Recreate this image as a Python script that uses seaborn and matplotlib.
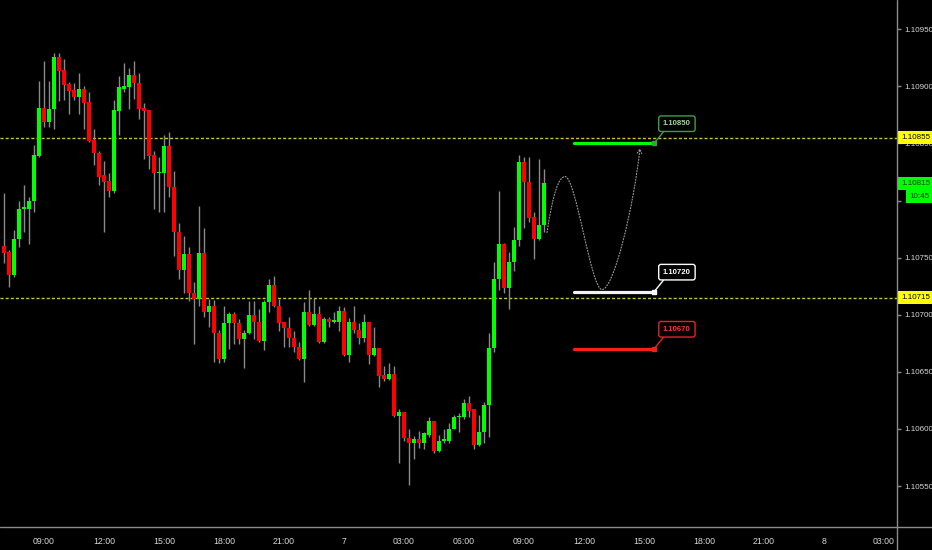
import numpy as np
import pandas as pd
import matplotlib
matplotlib.use("Agg")
import matplotlib.pyplot as plt
import seaborn as sns
from matplotlib import font_manager
from matplotlib.path import Path
from matplotlib.patches import FancyArrowPatch
from matplotlib.lines import Line2D

# ---------------- data ----------------
# 15-minute EURUSD candles; time in hours counted from 00:00 of day 6
start_hour = 7.0
bar_hours = 0.25

opens = [1.10760, 1.10755, 1.10735, 1.10766, 1.10793, 1.10793, 1.10800, 1.10839, 1.10881, 1.10869,
         1.10880, 1.10926, 1.10914, 1.10902, 1.10897, 1.10891, 1.10898, 1.10886, 1.10853, 1.10842,
         1.10822, 1.10817, 1.10808, 1.10878, 1.10898, 1.10899, 1.10910, 1.10903, 1.10881, 1.10879,
         1.10840, 1.10824, 1.10824, 1.10848, 1.10812, 1.10772, 1.10739, 1.10753, 1.10719, 1.10714,
         1.10754, 1.10702, 1.10708, 1.10684, 1.10661, 1.10693, 1.10701, 1.10693, 1.10679, 1.10684,
         1.10700, 1.10694, 1.10677, 1.10711, 1.10726, 1.10708, 1.10694, 1.10688, 1.10680, 1.10672,
         1.10661, 1.10702, 1.10691, 1.10701, 1.10676, 1.10696, 1.10694, 1.10694, 1.10703, 1.10665,
         1.10694, 1.10687, 1.10680, 1.10694, 1.10665, 1.10671, 1.10647, 1.10644, 1.10648, 1.10611,
         1.10615, 1.10592, 1.10588, 1.10591, 1.10588, 1.10595, 1.10607, 1.10581, 1.10589, 1.10589,
         1.10600, 1.10610, 1.10610, 1.10623, 1.10617, 1.10586, 1.10597, 1.10621, 1.10671, 1.10731,
         1.10762, 1.10723, 1.10746, 1.10765, 1.10834, 1.10816, 1.10786, 1.10766, 1.10779]

highs = [1.10807, 1.10757, 1.10774, 1.10800, 1.10814, 1.10803, 1.10849, 1.10905, 1.10922, 1.10905,
         1.10929, 1.10929, 1.10924, 1.10904, 1.10903, 1.10912, 1.10900, 1.10895, 1.10863, 1.10843,
         1.10835, 1.10824, 1.10888, 1.10909, 1.10920, 1.10916, 1.10922, 1.10912, 1.10885, 1.10879,
         1.10843, 1.10838, 1.10857, 1.10860, 1.10826, 1.10780, 1.10769, 1.10759, 1.10729, 1.10795,
         1.10776, 1.10714, 1.10713, 1.10687, 1.10708, 1.10702, 1.10702, 1.10696, 1.10687, 1.10712,
         1.10712, 1.10705, 1.10713, 1.10731, 1.10734, 1.10714, 1.10694, 1.10698, 1.10686, 1.10676,
         1.10711, 1.10722, 1.10715, 1.10708, 1.10698, 1.10698, 1.10702, 1.10708, 1.10707, 1.10697,
         1.10708, 1.10693, 1.10701, 1.10694, 1.10689, 1.10671, 1.10655, 1.10658, 1.10655, 1.10617,
         1.10615, 1.10600, 1.10594, 1.10598, 1.10597, 1.10610, 1.10607, 1.10595, 1.10600, 1.10605,
         1.10612, 1.10614, 1.10626, 1.10629, 1.10617, 1.10612, 1.10624, 1.10684, 1.10746, 1.10808,
         1.10763, 1.10755, 1.10777, 1.10840, 1.10838, 1.10838, 1.10790, 1.10836, 1.10828]

lows = [1.10745, 1.10724, 1.10733, 1.10759, 1.10772, 1.10762, 1.10790, 1.10838, 1.10864, 1.10864,
        1.10863, 1.10887, 1.10888, 1.10876, 1.10888, 1.10876, 1.10863, 1.10851, 1.10831, 1.10814,
        1.10772, 1.10803, 1.10807, 1.10857, 1.10895, 1.10880, 1.10889, 1.10871, 1.10836, 1.10828,
        1.10793, 1.10790, 1.10790, 1.10803, 1.10751, 1.10731, 1.10719, 1.10712, 1.10674, 1.10708,
        1.10698, 1.10689, 1.10659, 1.10658, 1.10659, 1.10670, 1.10674, 1.10674, 1.10653, 1.10683,
        1.10679, 1.10676, 1.10669, 1.10702, 1.10707, 1.10686, 1.10672, 1.10672, 1.10667, 1.10660,
        1.10641, 1.10690, 1.10690, 1.10675, 1.10675, 1.10689, 1.10693, 1.10686, 1.10664, 1.10659,
        1.10684, 1.10674, 1.10676, 1.10657, 1.10664, 1.10637, 1.10642, 1.10643, 1.10610, 1.10570,
        1.10589, 1.10551, 1.10574, 1.10583, 1.10582, 1.10593, 1.10579, 1.10580, 1.10588, 1.10588,
        1.10600, 1.10597, 1.10609, 1.10610, 1.10582, 1.10585, 1.10588, 1.10593, 1.10667, 1.10722,
        1.10719, 1.10705, 1.10738, 1.10760, 1.10776, 1.10781, 1.10749, 1.10765, 1.10772]

closes = [1.10754, 1.10735, 1.10766, 1.10793, 1.10794, 1.10800, 1.10840, 1.10881, 1.10869, 1.10880,
          1.10926, 1.10913, 1.10901, 1.10896, 1.10891, 1.10898, 1.10885, 1.10852, 1.10842, 1.10821,
          1.10816, 1.10808, 1.10879, 1.10899, 1.10900, 1.10910, 1.10903, 1.10880, 1.10878, 1.10839,
          1.10824, 1.10824, 1.10848, 1.10812, 1.10772, 1.10739, 1.10753, 1.10719, 1.10714, 1.10754,
          1.10702, 1.10708, 1.10684, 1.10661, 1.10693, 1.10701, 1.10693, 1.10679, 1.10684, 1.10700,
          1.10694, 1.10677, 1.10711, 1.10726, 1.10708, 1.10693, 1.10688, 1.10680, 1.10672, 1.10661,
          1.10702, 1.10691, 1.10701, 1.10676, 1.10696, 1.10694, 1.10695, 1.10703, 1.10665, 1.10694,
          1.10687, 1.10680, 1.10694, 1.10665, 1.10671, 1.10646, 1.10644, 1.10648, 1.10611, 1.10615,
          1.10592, 1.10588, 1.10591, 1.10588, 1.10596, 1.10607, 1.10581, 1.10589, 1.10591, 1.10600,
          1.10610, 1.10610, 1.10623, 1.10616, 1.10586, 1.10597, 1.10621, 1.10671, 1.10731, 1.10762,
          1.10723, 1.10746, 1.10765, 1.10834, 1.10816, 1.10785, 1.10766, 1.10779, 1.10815]

# horizontal support / resistance (yellow dashed)
sr_levels = [1.10855, 1.10715]
# trade plan levels
plan_names = ["target", "entry", "stop"]
plan_prices = [1.10850, 1.10720, 1.10670]
plan_colors = ["#00ff00", "#f2f2f2", "#ff1c1c"]
plan_box_edge = ["#3e9e48", "#ffffff", "#e8202c"]
plan_box_text = ["#9fd49f", "#ffffff", "#ff3040"]
plan_start, plan_end = 35.5, 39.5
# projected path (hours, price)
path_times = [34.15, 35.05, 36.9, 38.8]
path_prices = [1.10772, 1.10821, 1.10722, 1.10846]

current_price = 1.10815
countdown = "10:45"

x_ticks = [9, 12, 15, 18, 21, 24, 27, 30, 33, 36, 39, 42, 45, 48, 51]
x_labels = ["09:00", "12:00", "15:00", "18:00", "21:00", "7", "03:00", "06:00",
            "09:00", "12:00", "15:00", "18:00", "21:00", "8", "03:00"]
y_ticks = [1.10550, 1.10600, 1.10650, 1.10700, 1.10750, 1.10800, 1.10850, 1.10900, 1.10950]

# ---------------- style ----------------
sns.set_theme(style="dark", rc={"axes.facecolor": "black", "figure.facecolor": "black"})
plt.rcParams["font.family"] = ["Liberation Sans", "DejaVu Sans"]
fs_y = 5.8
fs_x = 6.3

W, H = 932, 550
fig = plt.figure(figsize=(W / 100, H / 100), dpi=100, facecolor="black")
ax = fig.add_axes([0, 23 / H, 897 / W, 527 / H])
ax.set_facecolor("black")

df = pd.DataFrame({"open": opens, "high": highs, "low": lows, "close": closes})
df["time"] = start_hour + bar_hours * np.arange(len(df))
df["up"] = df["close"] >= df["open"]

# wicks
ax.vlines(df["time"], df["low"], df["high"], color="#8a8a8a", lw=1.0, zorder=2)
# bodies
body_bottom = np.minimum(df["open"], df["close"])
body_h = np.maximum(np.abs(df["close"] - df["open"]), 0.000012)
ax.bar(df["time"], body_h, bottom=body_bottom, width=0.2,
       color=np.where(df["up"], "#00ff00", "#ff0000"), linewidth=0, zorder=3)

# support/resistance lines
for lv in sr_levels:
    ax.axhline(lv, color="#c8c81e", lw=1.0, ls=(0, (2.2, 1.5)), zorder=1)

# trade plan levels via seaborn
lv_df = pd.DataFrame({
    "time": [plan_start, plan_end] * 3,
    "price": [p for p in plan_prices for _ in range(2)],
    "level": [n for n in plan_names for _ in range(2)],
})
sns.lineplot(data=lv_df, x="time", y="price", hue="level",
             palette=dict(zip(plan_names, plan_colors)), lw=2.3, legend=False, ax=ax, zorder=5)
for p, ec, tc in zip(plan_prices, plan_box_edge, plan_box_text):
    ax.plot([plan_end], [p], marker="s", ms=2.5, color=ec, zorder=6)
    ax.annotate(f"{p:.5f}", xy=(plan_end, p), xytext=(16.5, 14.2), textcoords="offset points",
                ha="center", va="center", fontsize=5.6, color=tc, fontweight="bold",
                bbox=dict(boxstyle="round,pad=0.55,rounding_size=0.3", fc="black", ec=ec, lw=1.0),
                arrowprops=dict(arrowstyle="-", color=ec, lw=1.0, relpos=(0.15, 0.0),
                                shrinkA=0, shrinkB=0), zorder=7)

# projected path
t0, t1, t2, t3 = path_times
p0, p1, p2, p3 = path_prices
verts = [(t0, p0), (t0 + 0.3, p0 + 0.00035), (t1 - 0.3, p1), (t1, p1),
         (t1 + 0.55, p1), (t2 - 0.55, p2), (t2, p2),
         (t2 + 0.6, p2), (t3 - 0.3, p3 - 0.0005), (t3, p3)]
codes = [Path.MOVETO] + [Path.CURVE4] * 9
arrow = FancyArrowPatch(path=Path(verts, codes), arrowstyle="->,head_length=3,head_width=1.6",
                        color="#9a9a9a", lw=0.8, ls=(0, (1, 1.6)), zorder=4)
ax.add_patch(arrow)

# axes limits & ticks
ax.set_xlim(6.8, 51.65)
ax.set_ylim(1.105141, 1.109756)
for s in ax.spines.values():
    s.set_visible(False)
ax.grid(False)
ax.yaxis.tick_right()
ax.set_yticks(y_ticks)
ax.set_yticklabels([f"{v:.5f}" for v in y_ticks])
ax.set_xticks(x_ticks)
ax.set_xticklabels(x_labels)
ax.tick_params(axis="both", colors="#8a8a8a", labelcolor="#d8d8d8",
               length=3, width=1, direction="out")
ax.tick_params(axis="y", pad=2, labelsize=fs_y)
ax.tick_params(axis="x", pad=4, labelsize=fs_x)
ax.set_xlabel("")
ax.set_ylabel("")

# axis border lines across the figure
fig.add_artist(Line2D([0, 1], [23 / H, 23 / H], transform=fig.transFigure, color="#8a8a8a", lw=1))
fig.add_artist(Line2D([897 / W, 897 / W], [0, 1], transform=fig.transFigure, color="#8a8a8a", lw=1))

# price labels on the right axis
ytr = ax.get_yaxis_transform()
for lv in sr_levels:
    ax.text(1.0045, lv, f"{lv:.5f}", transform=ytr, ha="left", va="center", fontsize=fs_y,
            color="black", clip_on=False, zorder=20,
            bbox=dict(boxstyle="square,pad=0.35", fc="#ffff00", ec="none"))
ax.text(1.0045, current_price, f"{current_price:.5f}", transform=ytr, ha="left", va="center",
        fontsize=fs_y, color="#003300", clip_on=False, zorder=20,
        bbox=dict(boxstyle="square,pad=0.35", fc="#00ff00", ec="none"))
ax.text(1.0135, current_price - 0.000115, countdown, transform=ytr, ha="left", va="center",
        fontsize=fs_y, color="#003300", clip_on=False, zorder=20,
        bbox=dict(boxstyle="square,pad=0.35", fc="#00ff00", ec="none"))

fig.savefig("out.png", dpi=100, facecolor="black")
